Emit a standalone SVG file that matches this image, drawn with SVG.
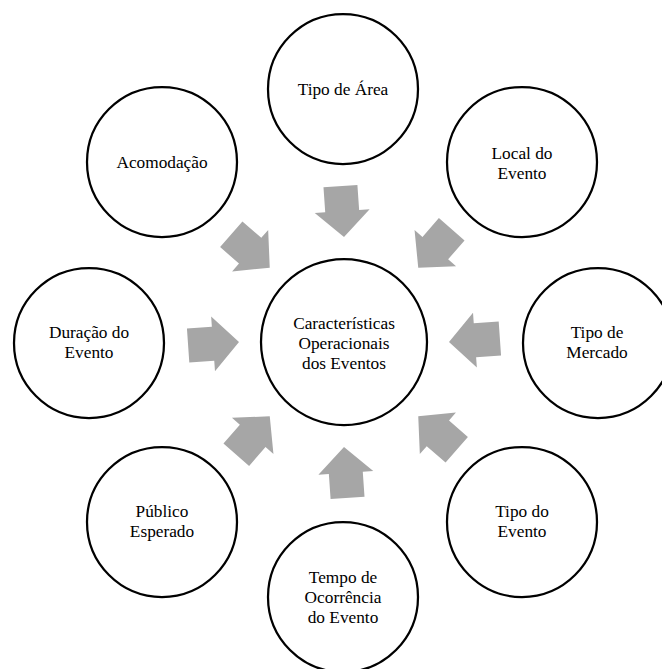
<svg xmlns="http://www.w3.org/2000/svg" width="662" height="669" viewBox="0 0 662 669">
<style>
.c{fill:#fff;stroke:#000;stroke-width:2.25}
.t{font-family:"Liberation Serif","Times New Roman",serif;font-size:17.3px;fill:#000;text-anchor:middle}
.a{fill:#A6A6A6}
</style>
<defs>
<polygon id="arr" points="0,0 26,-27.5 26,-17 51,-17 51,17 26,17 26,27.5"/>
</defs>
<rect width="662" height="669" fill="#fff"/>
<g id="connectors">
<use href="#arr" class="a" transform="translate(344 342) rotate(0) translate(105 0) rotate(-4)"/>
<use href="#arr" class="a" transform="translate(344 342) rotate(45) translate(105 0) rotate(-4)"/>
<use href="#arr" class="a" transform="translate(344 342) rotate(90) translate(105 0) rotate(-4)"/>
<use href="#arr" class="a" transform="translate(344 342) rotate(135) translate(105 0) rotate(-4)"/>
<use href="#arr" class="a" transform="translate(344 342) rotate(180) translate(105 0) rotate(-4)"/>
<use href="#arr" class="a" transform="translate(344 342) rotate(225) translate(105 0) rotate(-4)"/>
<use href="#arr" class="a" transform="translate(344 342) rotate(270) translate(105 0) rotate(-4)"/>
<use href="#arr" class="a" transform="translate(344 342) rotate(315) translate(105 0) rotate(-4)"/>
</g>
<g id="center">
<circle class="c" cx="344" cy="342" r="83"/>
<text class="t" x="344" y="329">Características</text>
<text class="t" x="344" y="349">Operacionais</text>
<text class="t" x="344" y="369">dos Eventos</text>
</g>
<g id="tipo-area">
<circle class="c" cx="343" cy="89" r="75"/>
<text class="t" x="343" y="95">Tipo de Área</text>
</g>
<g id="local-evento">
<circle class="c" cx="522" cy="162" r="75"/>
<text class="t" x="522" y="159">Local do</text>
<text class="t" x="522" y="179">Evento</text>
</g>
<g id="tipo-mercado">
<circle class="c" cx="598" cy="343" r="75"/>
<text class="t" x="597" y="338">Tipo de</text>
<text class="t" x="597" y="358">Mercado</text>
</g>
<g id="tipo-evento">
<circle class="c" cx="522" cy="522" r="75"/>
<text class="t" x="522" y="517">Tipo do</text>
<text class="t" x="522" y="537">Evento</text>
</g>
<g id="tempo-ocorrencia">
<circle class="c" cx="343" cy="597" r="75"/>
<text class="t" x="343" y="583">Tempo de</text>
<text class="t" x="343" y="603">Ocorrência</text>
<text class="t" x="343" y="623">do Evento</text>
</g>
<g id="publico-esperado">
<circle class="c" cx="162" cy="522" r="75"/>
<text class="t" x="162" y="517">Público</text>
<text class="t" x="162" y="537">Esperado</text>
</g>
<g id="duracao-evento">
<circle class="c" cx="89" cy="343" r="75"/>
<text class="t" x="89" y="338">Duração do</text>
<text class="t" x="89" y="358">Evento</text>
</g>
<g id="acomodacao">
<circle class="c" cx="162" cy="162" r="75"/>
<text class="t" x="162" y="168">Acomodação</text>
</g>
</svg>
